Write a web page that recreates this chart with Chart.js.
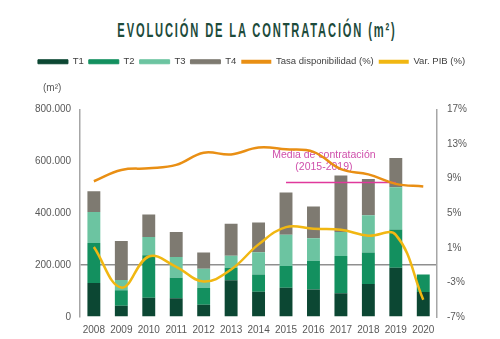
<!DOCTYPE html>
<html>
<head>
<meta charset="utf-8">
<script src="https://cdn.jsdelivr.net/npm/chart.js@4/dist/chart.umd.min.js"></script>
<style>
  html, body { margin: 0; padding: 0; background: #fff; }
  #wrap { position: relative; width: 500px; height: 339px; }
  #titulo {
    position: absolute; left: 257px; top: 19px;
    font: bold 21px 'Liberation Sans', sans-serif;
    line-height: 21px; letter-spacing: 3.5px; color: #1d4b3b;
    white-space: nowrap;
    transform: translateX(-50%) scaleX(0.53);
  }
  canvas { position: absolute; left: 0; top: 0; }
</style>
</head>
<body>
<div id="wrap">
  <div id="titulo">EVOLUCIÓN DE LA CONTRATACIÓN (m²)</div>
  <canvas id="contratacion" width="500" height="339"></canvas>
</div>
<script>
// -------------------- DATOS --------------------
const anios = ["2008", "2009", "2010", "2011", "2012", "2013", "2014",
               "2015", "2016", "2017", "2018", "2019", "2020"];

// contratación por trimestre (m²)
const t1 = [131000, 43000, 74000, 72000, 47000, 142000, 97000, 113000, 106000, 92000, 127000, 190000, 96000];
const t2 = [154000, 60000, 164000, 79000, 66000, 48000, 67000, 84000, 111000, 143000, 122000, 147000, 68000];
const t3 = [120000, 40000, 70000, 80000, 73000, 46000, 86000, 120000, 87000, 93000, 143000, 163000, 0];
const t4 = [80000, 150000, 87000, 97000, 63000, 124000, 114000, 163000, 122000, 218000, 140000, 113000, 0];

// porcentajes (eje derecho)
const tasaDisponibilidad = [8.7, 10.0, 10.2, 10.6, 12.0, 11.8, 12.6, 12.4, 12.1, 10.1, 9.5, 8.4, 8.1];
const varPib = [1.1, -3.6, 0.0, -1.2, -2.9, -1.5, 1.4, 3.4, 3.2, 3.1, 2.4, 2.5, -5.0];

// media de contratación 2015-2019
const mediaContratacion = 519000;
const mediaSerie = [null, null, null, null, null, null, null,
                    mediaContratacion, mediaContratacion, mediaContratacion,
                    mediaContratacion, mediaContratacion, null];

const ticksIzq = [0, 200000, 400000, 600000, 800000];
const ticksDer = [-7, -3, 1, 5, 9, 13, 17];

// -------------------- COLORES --------------------
const colores = {
    t1: "#0c4733",
    t2: "#13905f",
    t3: "#6cc4a1",
    t4: "#7e7a71",
    tasa: "#e98f14",
    pib: "#f1b712",
    media: "#e0399c",
    textoMedia: "#cf4fab",
    ejes: "#a6a6a6",
    texto: "#595959"
};

const fuente = "'Liberation Sans', Arial, sans-serif";

// -------------------- TEXTOS EXTRA --------------------
const textosPlugin = {
    id: "textos",
    beforeDatasetsDraw(chart) {
        const { ctx, scales, chartArea } = chart;
        ctx.save();
        ctx.textAlign = "center";
        ctx.textBaseline = "middle";

        ctx.fillStyle = colores.texto;
        ctx.font = "10px " + fuente;
        ctx.fillText("(m²)", chartArea.left - 28, chartArea.top - 21);

        const xc = (scales.x.getPixelForValue(7) + scales.x.getPixelForValue(11)) / 2 - 17;
        const yc = scales.y.getPixelForValue(mediaContratacion);
        ctx.fillStyle = colores.textoMedia;
        ctx.font = "10.5px " + fuente;
        ctx.fillText("Media de contratación", xc, yc - 27);
        ctx.fillText("(2015-2019)", xc, yc - 15);
        ctx.restore();
    }
};

// hueco entre la leyenda y el gráfico
const huecoLeyenda = {
    id: "huecoLeyenda",
    beforeInit(chart) {
        const fitOriginal = chart.legend.fit;
        chart.legend.fit = function () {
            fitOriginal.bind(chart.legend)();
            this.height += 33;
        };
    }
};

function barra(label, data, color) {
    return {
        type: "bar",
        label: label,
        data: data,
        backgroundColor: color,
        borderWidth: 0,
        stack: "contratacion",
        yAxisID: "y",
        order: 2,
        barPercentage: 0.47,
        categoryPercentage: 1
    };
}

function linea(label, data, color) {
    return {
        type: "line",
        label: label,
        data: data,
        borderColor: color,
        backgroundColor: color,
        borderWidth: 2.5,
        pointRadius: 0,
        tension: 0.4,
        fill: false,
        yAxisID: "y1",
        order: 1
    };
}

// -------------------- GRÁFICO --------------------
new Chart(document.getElementById("contratacion"), {
    data: {
        labels: anios,
        datasets: [
            barra("T1", t1, colores.t1),
            barra("T2", t2, colores.t2),
            barra("T3", t3, colores.t3),
            barra("T4", t4, colores.t4),
            linea("Tasa disponibilidad (%)", tasaDisponibilidad, colores.tasa),
            linea("Var. PIB (%)", varPib, colores.pib),
            {
                type: "line",
                label: "Media",
                data: mediaSerie,
                borderColor: colores.media,
                borderWidth: 1.5,
                pointRadius: 0,
                tension: 0,
                fill: false,
                yAxisID: "y",
                stack: "media",
                order: 1
            }
        ]
    },
    plugins: [textosPlugin, huecoLeyenda],
    options: {
        responsive: false,
        animation: false,
        layout: {
            padding: { top: 52, left: 26, right: 23, bottom: -4 }
        },
        plugins: {
            tooltip: { enabled: false },
            legend: {
                position: "top",
                labels: {
                    boxWidth: 30,
                    boxHeight: 4,
                    padding: 5,
                    color: "#404040",
                    font: { family: fuente, size: 9.5 },
                    filter: item => item.text !== "Media",
                    sort: (a, b) => a.datasetIndex - b.datasetIndex,
                    generateLabels(chart) {
                        const items = Chart.defaults.plugins.legend.labels.generateLabels(chart);
                        return items.map(item => {
                            const ds = chart.data.datasets[item.datasetIndex];
                            const esBarra = ds.type === "bar";
                            item.fillStyle = ds.backgroundColor || ds.borderColor;
                            item.strokeStyle = item.fillStyle;
                            item.lineWidth = esBarra ? 1 : 0;
                            return item;
                        });
                    }
                }
            }
        },
        scales: {
            x: {
                stacked: true,
                grid: { display: false, drawTicks: false },
                border: { display: false },
                ticks: {
                    autoSkip: false,
                    maxRotation: 0,
                    padding: 7,
                    color: colores.texto,
                    font: { family: fuente, size: 10 }
                }
            },
            y: {
                stacked: true,
                position: "left",
                min: ticksIzq[0],
                max: ticksIzq[ticksIzq.length - 1],
                afterBuildTicks(scale) {
                    scale.ticks = ticksIzq.map(v => ({ value: v }));
                },
                grid: {
                    drawTicks: false,
                    lineWidth: 1.5,
                    color: c => (c.tick && c.tick.value === 200000) ? "#8f8f8f" : "rgba(0,0,0,0)"
                },
                border: { display: true, color: colores.ejes, width: 1.5 },
                ticks: {
                    padding: 9,
                    color: colores.texto,
                    font: { family: fuente, size: 10 },
                    callback: v => v === 0 ? "0" : v.toLocaleString("de-DE")
                }
            },
            y1: {
                position: "right",
                min: ticksDer[0],
                max: ticksDer[ticksDer.length - 1],
                afterBuildTicks(scale) {
                    scale.ticks = ticksDer.map(v => ({ value: v }));
                },
                grid: { display: false, drawTicks: false },
                border: { display: true, color: colores.ejes, width: 1.5 },
                ticks: {
                    padding: 10,
                    color: colores.texto,
                    font: { family: fuente, size: 10 },
                    callback: v => v + "%"
                }
            }
        }
    }
});
</script>
</body>
</html>
